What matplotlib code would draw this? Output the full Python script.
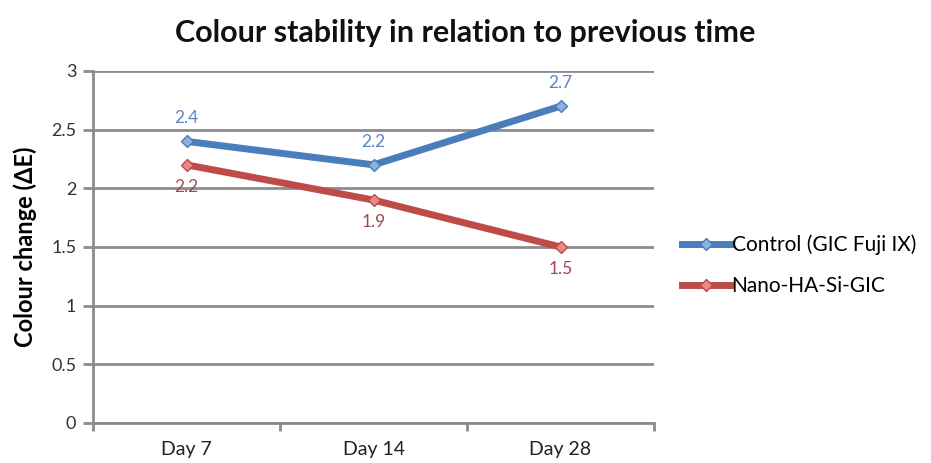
import matplotlib.pyplot as plt
from matplotlib.lines import Line2D

plt.rcParams['font.family'] = ['Lato', 'DejaVu Sans']

days = ['Day 7', 'Day 14', 'Day 28']
control = [2.4, 2.2, 2.7]
nano = [2.2, 1.9, 1.5]
series_names = ['Control (GIC Fuji IX)', 'Nano-HA-Si-GIC']

blue = '#4a7ebb'
red = '#be4b48'
grid_grey = '#8c8c8c'

fig = plt.figure(figsize=(9.31, 4.63), dpi=100)
ax = fig.add_axes([0.0999, 0.0864, 0.6026, 0.7603])

x = list(range(len(days)))
ax.plot(x, control, color=blue, lw=5, marker='D', ms=6,
        mfc='#8fb1e0', mec=blue, mew=1, solid_capstyle='round', zorder=3)
ax.plot(x, nano, color=red, lw=5, marker='D', ms=6,
        mfc='#e58a88', mec=red, mew=1, solid_capstyle='round', zorder=3)

for xi, v in zip(x, control):
    ax.annotate(f'{v:g}', (xi, v), xytext=(0, 11), textcoords='offset points',
                ha='center', va='bottom', fontsize=12.5, color='#5b86c4')
for xi, v in zip(x, nano):
    ax.annotate(f'{v:g}', (xi, v), xytext=(0, -10), textcoords='offset points',
                ha='center', va='top', fontsize=12.5, color='#a04a4e')

ax.set_xlim(-0.5, 2.5)
ax.set_ylim(0, 3)
ax.set_yticks([0, 0.5, 1, 1.5, 2, 2.5, 3])
ax.set_yticklabels(['0', '0.5', '1', '1.5', '2', '2.5', '3'])
ax.set_xticks(x)
ax.set_xticklabels(days)
ax.set_xticks([-0.5, 0.5, 1.5, 2.5], minor=True)
ax.tick_params(axis='x', which='major', length=0, pad=13, labelsize=14,
               labelcolor='#222222')
ax.tick_params(axis='x', which='minor', length=6, width=2, color=grid_grey)
ax.tick_params(axis='y', length=7, width=2, color=grid_grey, labelsize=13,
               labelcolor='#333333', pad=5)

ax.grid(axis='y', color=grid_grey, lw=2)
ax.set_axisbelow(True)
for side in ['top', 'right']:
    ax.spines[side].set_visible(False)
for side in ['left', 'bottom']:
    ax.spines[side].set_color(grid_grey)
    ax.spines[side].set_linewidth(2)

ax.set_ylabel('Colour change (ΔE)', fontsize=17, fontweight='bold', labelpad=10)
fig.suptitle('Colour stability in relation to previous time', x=0.5, y=0.96,
             fontsize=22, fontweight='bold', color='#111111')

handles = [
    Line2D([], [], color=blue, lw=5, marker='D', ms=6, mfc='#8fb1e0', mec=blue),
    Line2D([], [], color=red, lw=5, marker='D', ms=6, mfc='#e58a88', mec=red),
]
fig.legend(handles, series_names, loc='center left', bbox_to_anchor=(0.712, 0.427),
           frameon=False, fontsize=15, handlelength=2.3, handletextpad=0.1,
           labelspacing=1.0)

fig.savefig('out.png', dpi=100)
